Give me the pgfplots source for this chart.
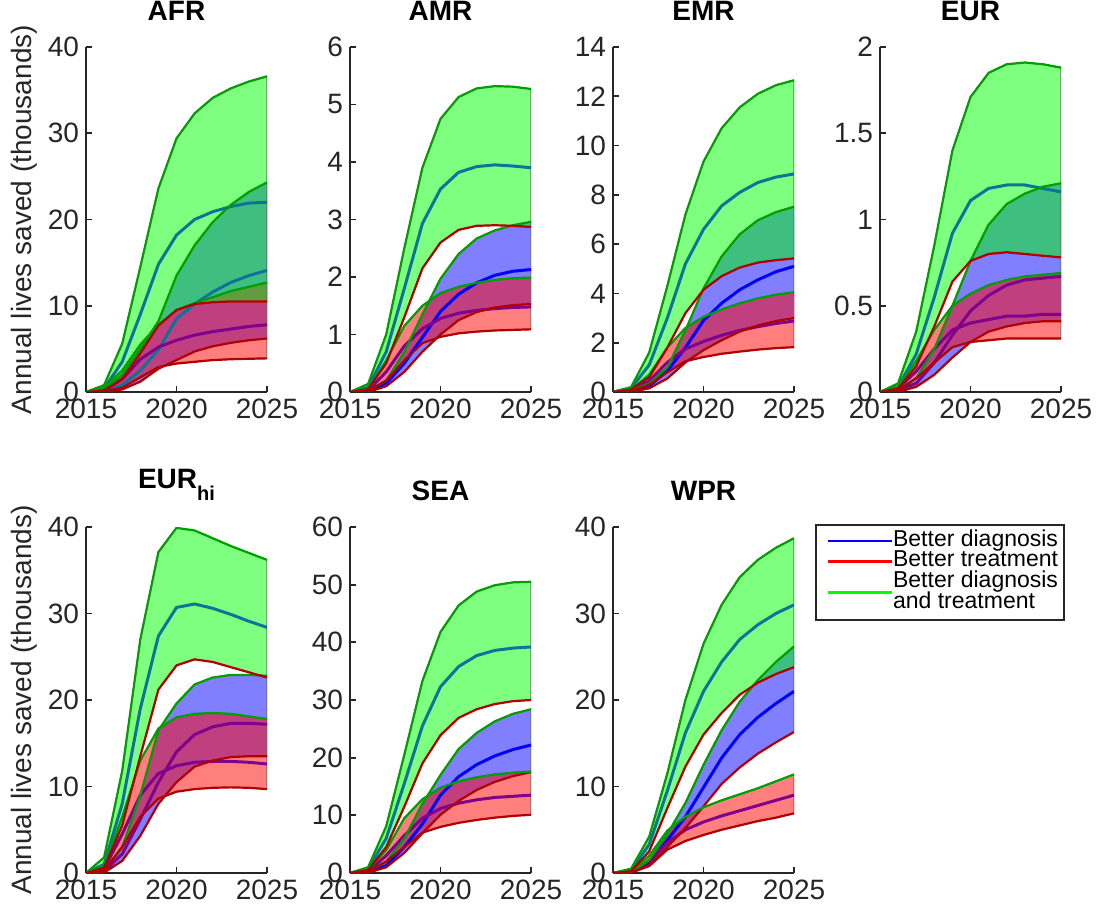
\documentclass[border=0pt]{standalone}
\usepackage{pgfplots}
\pgfplotsset{compat=1.18}
\usepackage{pgfplotstable}
\usepgfplotslibrary{fillbetween}
\usepackage{fontspec}
\setmainfont{Liberation Sans}

\definecolor{edgeG}{rgb}{0,0.62,0}
\definecolor{edgeR}{rgb}{0.7,0,0}
\definecolor{axgray}{rgb}{0.15,0.15,0.15}
\definecolor{medB}{rgb}{0,0,1}
\definecolor{medR}{rgb}{0.5,0,0.55}
\definecolor{medG}{rgb}{0.05,0.45,0.6}

% columns: year, blue (lower, median, upper), red (lower, median, upper), green (lower, median, upper)
\pgfplotstableread{
year bl bm bu rl rm ru gl gm gu
2015 0 0 0 0 0 0 0 0 0
2016 0 0.1 0.3 0.1 0.2 0.5 0.2 0.4 0.8
2017 0.3 0.8 2.0 0.5 1.5 2.5 1.5 3.5 5.6
2018 1.2 2.5 5.0 1.7 3.8 5.5 4.5 9.0 14.5
2019 2.7 4.9 8.2 2.9 5.2 7.8 7.7 14.8 23.6
2020 3.7 8.5 13.5 3.3 6.0 9.5 9.5 18.2 29.4
2021 4.7 10.2 17.0 3.5 6.6 10.3 10.2 20.0 32.3
2022 5.3 11.6 19.7 3.7 7.0 11.0 10.4 20.9 34.1
2023 5.7 12.7 21.7 3.8 7.3 11.7 10.5 21.5 35.2
2024 6.0 13.5 23.2 3.85 7.6 12.2 10.5 21.9 36.0
2025 6.2 14.1 24.3 3.9 7.8 12.7 10.5 22.0 36.6
}\tAFR
\pgfplotstableread{
year bl bm bu rl rm ru gl gm gu
2015 0 0 0 0 0 0 0 0 0
2016 0 0.02 0.02 0.02 0.03 0.05 0.05 0.08 0.14
2017 0.1 0.15 0.2 0.2 0.35 0.55 0.5 0.7 1.0
2018 0.35 0.5 0.7 0.55 0.8 1.15 1.3 1.8 2.5
2019 0.7 0.95 1.35 0.85 1.1 1.5 2.15 2.93 3.9
2020 1.0 1.4 1.97 0.96 1.28 1.72 2.6 3.53 4.75
2021 1.25 1.7 2.4 1.02 1.37 1.83 2.82 3.82 5.13
2022 1.39 1.9 2.67 1.05 1.42 1.9 2.89 3.92 5.28
2023 1.47 2.03 2.81 1.07 1.45 1.95 2.9 3.95 5.32
2024 1.51 2.1 2.9 1.08 1.47 1.98 2.89 3.93 5.31
2025 1.53 2.13 2.96 1.09 1.48 1.99 2.87 3.9 5.27
}\tAMR
\pgfplotstableread{
year bl bm bu rl rm ru gl gm gu
2015 0 0 0 0 0 0 0 0 0
2016 0 0.03 0.05 0.02 0.05 0.1 0.1 0.15 0.2
2017 0.15 0.25 0.35 0.3 0.45 0.7 0.6 1.1 1.6
2018 0.55 0.85 1.0 0.8 1.2 1.8 1.8 3.0 4.3
2019 1.2 1.8 2.5 1.25 1.75 2.6 3.2 5.2 7.2
2020 1.7 2.9 4.2 1.42 2.05 3.05 4.15 6.6 9.35
2021 2.1 3.6 5.5 1.55 2.3 3.35 4.7 7.55 10.7
2022 2.45 4.15 6.4 1.64 2.5 3.6 5.05 8.1 11.55
2023 2.7 4.55 6.97 1.72 2.65 3.8 5.25 8.5 12.1
2024 2.88 4.88 7.3 1.78 2.78 3.95 5.35 8.72 12.45
2025 3.0 5.1 7.52 1.82 2.88 4.05 5.42 8.85 12.65
}\tEMR
\pgfplotstableread{
year bl bm bu rl rm ru gl gm gu
2015 0 0 0 0 0 0 0 0 0
2016 0 0.01 0.01 0.01 0.02 0.03 0.02 0.03 0.05
2017 0.03 0.05 0.08 0.08 0.12 0.18 0.15 0.22 0.35
2018 0.1 0.17 0.25 0.17 0.25 0.36 0.38 0.55 0.85
2019 0.2 0.33 0.5 0.26 0.36 0.5 0.64 0.92 1.4
2020 0.29 0.47 0.76 0.29 0.4 0.57 0.76 1.11 1.71
2021 0.35 0.56 0.97 0.3 0.42 0.62 0.8 1.18 1.85
2022 0.38 0.62 1.09 0.31 0.44 0.65 0.81 1.2 1.9
2023 0.4 0.65 1.15 0.31 0.44 0.67 0.8 1.2 1.91
2024 0.41 0.66 1.19 0.31 0.45 0.68 0.79 1.18 1.9
2025 0.41 0.67 1.21 0.31 0.45 0.69 0.78 1.16 1.88
}\tEUR
\pgfplotstableread{
year bl bm bu rl rm ru gl gm gu
2015 0 0 0 0 0 0 0 0 0
2016 0.05 0.2 0.3 0.3 0.5 0.8 0.6 1.0 1.8
2017 1.4 2.2 3.0 3.0 4.5 6.5 5.5 8.0 11.8
2018 4.3 6.2 9.0 6.5 9.0 13.0 13.5 19.0 27.0
2019 8.0 10.5 16.5 8.6 11.5 16.7 21.2 27.4 37.1
2020 10.5 14.0 19.6 9.4 12.4 18.0 24.0 30.7 39.9
2021 12.3 16.0 21.8 9.7 12.8 18.4 24.7 31.1 39.6
2022 13.0 16.9 22.6 9.85 12.9 18.5 24.4 30.6 38.7
2023 13.4 17.3 22.9 9.9 12.9 18.4 23.8 29.9 37.8
2024 13.5 17.3 22.9 9.85 12.8 18.1 23.2 29.1 37.0
2025 13.5 17.2 22.8 9.7 12.6 17.8 22.6 28.4 36.2
}\tEURhi
\pgfplotstableread{
year bl bm bu rl rm ru gl gm gu
2015 0 0 0 0 0 0 0 0 0
2016 0.05 0.1 0.2 0.2 0.3 0.5 0.5 0.7 1.0
2017 1.0 1.3 2.0 2.0 3.0 4.0 4.5 6.0 8.1
2018 3.5 4.5 6.0 4.5 6.5 9.5 11.5 15.5 20.5
2019 6.9 8.5 12.0 7.0 9.5 12.8 19.0 25.5 33.3
2020 10.1 13.5 17.0 8.0 11.2 14.8 23.9 32.3 41.8
2021 12.5 16.7 21.5 8.7 12.1 15.9 26.9 35.8 46.4
2022 14.4 18.8 24.3 9.2 12.7 16.6 28.4 37.7 48.8
2023 15.8 20.3 26.3 9.6 13.1 17.1 29.3 38.6 49.9
2024 16.8 21.4 27.6 9.9 13.3 17.4 29.8 39.0 50.4
2025 17.5 22.2 28.4 10.1 13.5 17.6 30.0 39.2 50.5
}\tSEA
\pgfplotstableread{
year bl bm bu rl rm ru gl gm gu
2015 0 0 0 0 0 0 0 0 0
2016 0.02 0.05 0.1 0.05 0.1 0.15 0.2 0.3 0.5
2017 0.9 1.2 1.5 0.8 1.4 2.0 2.5 3.3 4.2
2018 3.0 3.8 4.5 2.7 3.5 4.9 7.5 9.5 11.5
2019 5.2 6.5 8.1 3.7 5.0 6.5 12.3 16.2 20.0
2020 7.7 9.9 12.5 4.4 5.9 7.6 16.0 21.0 26.5
2021 10.3 13.3 16.5 5.0 6.6 8.4 18.5 24.4 31.0
2022 12.2 16.0 19.8 5.5 7.2 9.1 20.6 27.0 34.2
2023 13.8 18.0 22.3 6.0 7.8 9.8 22.0 28.7 36.2
2024 15.1 19.6 24.4 6.4 8.4 10.6 23.0 30.0 37.6
2025 16.3 21.0 26.2 6.9 9.0 11.4 23.8 31.0 38.7
}\tWPR

\pgfplotsset{
  panel/.style={
    scale only axis, width=90.5pt,
    xmin=2015, xmax=2025, ymin=0,
    axis x line=bottom, axis y line=left,
    axis line style={-, draw=axgray, line width=0.9pt},
    tick align=inside, major tick length=3pt,
    tick style={axgray, line width=0.9pt},
    xtick={2015,2020,2025},
    /pgf/number format/assume math mode=true,
    x tick label style={/pgf/number format/1000 sep={}},
    tick label style={font=\fontsize{14}{16}\selectfont, text=axgray},
    title style={font=\bfseries\fontsize{14}{16}\selectfont, at={(0.5,1)}, anchor=south, inner sep=0pt, yshift=7pt},
    ylabel style={font=\fontsize{14}{16}\selectfont, text=axgray, at={(axis description cs:-0.265,0.5)}, anchor=south, inner sep=0pt},
  },
  medline/.style={#1, line width=1.5pt, forget plot},
  upedge/.style={edgeG, line width=1.1pt, forget plot},
  loedge/.style={edgeR, line width=1.1pt, forget plot},
  bandfill/.style={fill=#1, fill opacity=0.5, draw=black!55, line width=0.6pt, forget plot},
}

% #1 = table, #2 = colour of the diagnosis median as seen through the overlying bands
\newcommand{\drawbands}[2]{%
  \addplot[draw=none, forget plot, name path=BU] table[x=year,y=bu]{#1};
  \addplot[draw=none, forget plot, name path=BL] table[x=year,y=bl]{#1};
  \addplot[draw=none, forget plot, name path=RU] table[x=year,y=ru]{#1};
  \addplot[draw=none, forget plot, name path=RL] table[x=year,y=rl]{#1};
  \addplot[draw=none, forget plot, name path=GU] table[x=year,y=gu]{#1};
  \addplot[draw=none, forget plot, name path=GL] table[x=year,y=gl]{#1};
  \addplot[bandfill=blue] fill between[of=BU and BL];
  \addplot[bandfill=red] fill between[of=RU and RL];
  \addplot[bandfill=green] fill between[of=GU and GL];
  \addplot[medline=#2] table[x=year,y=bm]{#1};
  \addplot[medline=medR] table[x=year,y=rm]{#1};
  \addplot[medline=medG] table[x=year,y=gm]{#1};
  \addplot[upedge] table[x=year,y=bu]{#1};
  \addplot[loedge] table[x=year,y=bl]{#1};
  \addplot[upedge] table[x=year,y=ru]{#1};
  \addplot[loedge] table[x=year,y=rl]{#1};
  \addplot[upedge] table[x=year,y=gu]{#1};
  \addplot[loedge] table[x=year,y=gl]{#1};
}

\begin{document}
\begin{tikzpicture}

\begin{axis}[panel, height=172.5pt, at={(43pt,259.5pt)}, anchor=south west,
  ymax=40, ytick={0,10,20,30,40}, title={AFR},
  ylabel={Annual lives saved (thousands)}]
\drawbands{\tAFR}{medG}
\end{axis}

\begin{axis}[panel, height=172.5pt, at={(175pt,259.5pt)}, anchor=south west,
  ymax=6, ytick={0,1,2,3,4,5,6}, title={AMR}]
\drawbands{\tAMR}{medB}
\end{axis}

\begin{axis}[panel, height=172.5pt, at={(306.5pt,259.5pt)}, anchor=south west,
  ymax=14, ytick={0,2,4,6,8,10,12,14}, title={EMR}]
\drawbands{\tEMR}{medB}
\end{axis}

\begin{axis}[panel, height=172.5pt, at={(440pt,259.5pt)}, anchor=south west,
  ymax=2, ytick={0,0.5,1,1.5,2}, title={EUR}]
\drawbands{\tEUR}{medR}
\end{axis}

\begin{axis}[panel, height=173pt, at={(43pt,19pt)}, anchor=south west,
  ymax=40, ytick={0,10,20,30,40},
  title={EUR\raisebox{-6pt}{\fontsize{10}{12}\selectfont hi}},
  ylabel={Annual lives saved (thousands)}]
\drawbands{\tEURhi}{medR}
\end{axis}

\begin{axis}[panel, height=173pt, at={(175pt,19pt)}, anchor=south west,
  ymax=60, ytick={0,10,20,30,40,50,60}, title={SEA}]
\drawbands{\tSEA}{medB}
\end{axis}

\begin{axis}[panel, height=173pt, at={(306.5pt,19pt)}, anchor=south west,
  ymax=40, ytick={0,10,20,30,40}, title={WPR},
  legend style={at={(axis description cs:1.116,1.0087)}, anchor=north west,
    draw=axgray, line width=0.9pt, font=\fontsize{11.5}{12}\selectfont,
    inner sep=3pt, row sep=0pt, column sep=0pt,
    nodes={inner sep=0pt, text height=7.6pt, text depth=2.65pt}, cells={anchor=west}},
  legend cell align=left,
  legend image code/.code={\draw[#1, line width=1.2pt] (3pt,0pt) -- (35pt,0pt);}]
\drawbands{\tWPR}{medB}
\addlegendimage{color=blue}
\addlegendentry{Better diagnosis}
\addlegendimage{color=red}
\addlegendentry{Better treatment}
\addlegendimage{legend image code/.code={\draw[green, line width=1.2pt] (3pt,-5.1pt) -- (35pt,-5.1pt);}}
\addlegendentry{Better diagnosis}
\addlegendimage{empty legend}
\addlegendentry{and treatment}
\end{axis}

\pgfresetboundingbox
\useasboundingbox (0,0) rectangle (548pt,455.5pt);
\end{tikzpicture}
\end{document}
